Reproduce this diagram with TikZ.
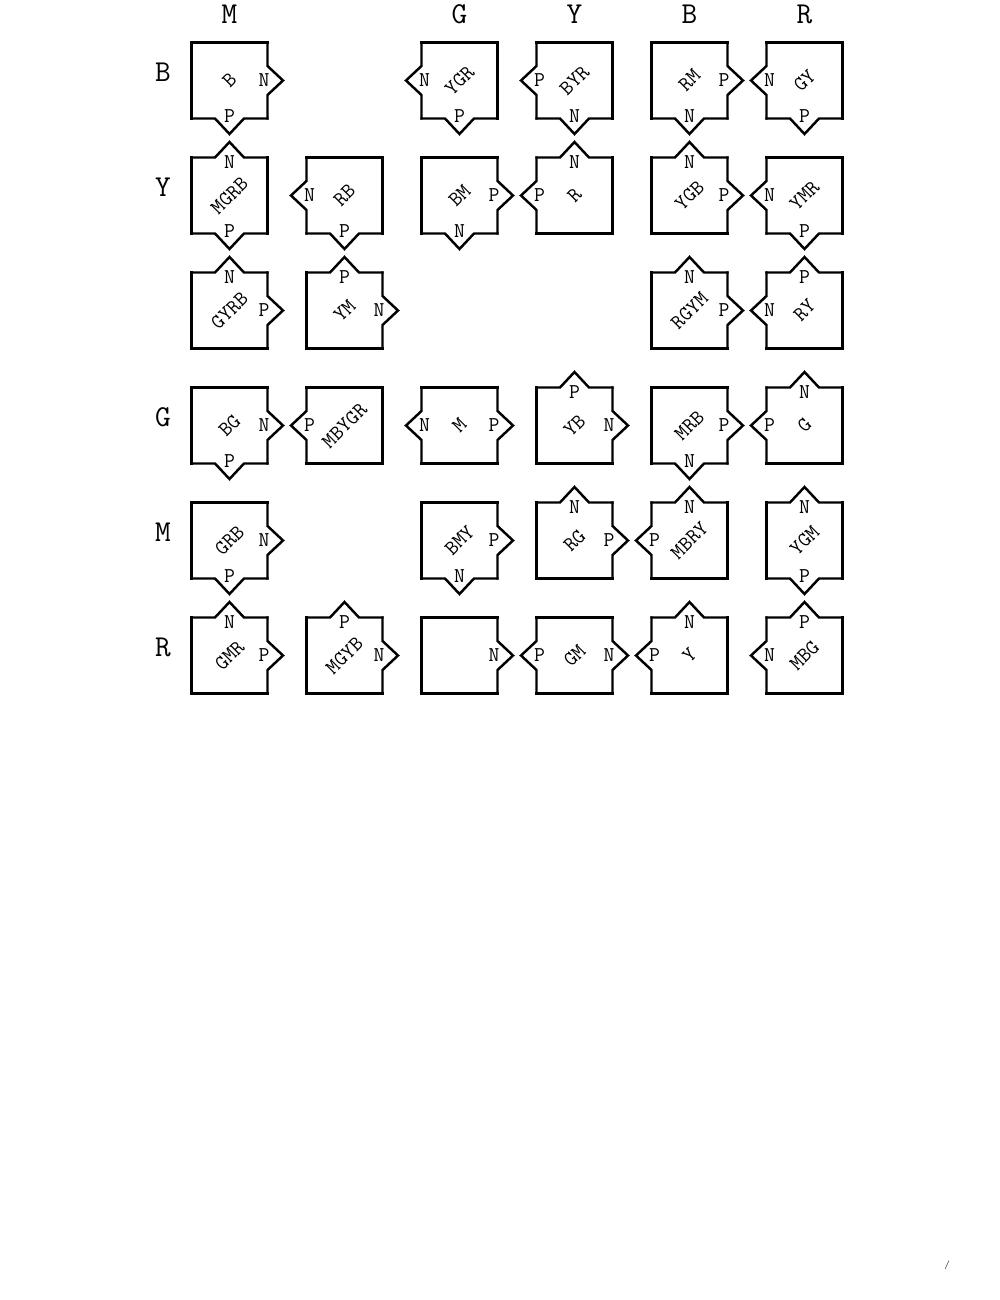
\documentclass[tikz,border=0pt]{standalone}

\tikzset{
  tileline/.style={line width=1.4pt, line cap=rect},
  notchlabel/.style={inner sep=0pt, font=\ttfamily\large},
  tilelabel/.style={inner sep=0pt, rotate=45, font=\ttfamily\large},
  header/.style={font=\ttfamily\LARGE}
}

% one side of a tile: straight, or with a notch and its letter
\newcommand{\side}[5]{%
  \begin{scope}[rotate=#3]
    \if\relax\detokenize{#4}\relax
      \draw[tileline] (0.76,0.76) -- (0.76,-0.76);
    \else
      \draw[tileline] (0.76,0.76) -- (0.76,0.29) -- (1.07,0) -- (0.76,-0.29) -- (0.76,-0.76);
      \node[notchlabel] (#1-#2) at ({0.76-#5},0) {#4};
    \fi
  \end{scope}}

% tile: name, column, row, label, top, right, bottom, left
\newcommand{\tile}[8]{%
  \begin{scope}[shift={({2.29+2.3*#2},{0.69-2.3*#3})}]
    \node[tilelabel] (#1) at (0,0) {#4};
    \side{#1}{t}{90}{#5}{0.1}
    \side{#1}{r}{0}{#6}{0.07}
    \side{#1}{b}{-90}{#7}{0.04}
    \side{#1}{l}{180}{#8}{0.06}
  \end{scope}}

\begin{document}
\begin{tikzpicture}
\useasboundingbox (0,0) rectangle (20,-26);

% column headers
\node[header] (cM) at (4.59,-0.28) {M};
\node[header] (cG) at (9.19,-0.28) {G};
\node[header] (cY) at (11.49,-0.28) {Y};
\node[header] (cB) at (13.79,-0.28) {B};
\node[header] (cR) at (16.09,-0.28) {R};

% row headers
\node[header] (rB) at (3.26,-1.45) {B};
\node[header] (rY) at (3.26,-3.75) {Y};
\node[header] (rG) at (3.26,-8.35) {G};
\node[header] (rM) at (3.26,-10.65) {M};
\node[header] (rR) at (3.26,-12.95) {R};

% row 1
\tile{t11}{1}{1}{B}{}{N}{P}{}
\tile{t13}{3}{1}{YGR}{}{}{P}{N}
\tile{t14}{4}{1}{BYR}{}{}{N}{P}
\tile{t15}{5}{1}{RM}{}{P}{N}{}
\tile{t16}{6}{1}{GY}{}{}{P}{N}

% row 2
\tile{t21}{1}{2}{MGRB}{N}{}{P}{}
\tile{t22}{2}{2}{RB}{}{}{P}{N}
\tile{t23}{3}{2}{BM}{}{P}{N}{}
\tile{t24}{4}{2}{R}{N}{}{}{P}
\tile{t25}{5}{2}{YGB}{N}{P}{}{}
\tile{t26}{6}{2}{YMR}{}{}{P}{N}

% row 3
\tile{t31}{1}{3}{GYRB}{N}{P}{}{}
\tile{t32}{2}{3}{YM}{P}{N}{}{}
\tile{t35}{5}{3}{RGYM}{N}{P}{}{}
\tile{t36}{6}{3}{RY}{P}{}{}{N}

% row 4
\tile{t41}{1}{4}{BG}{}{N}{P}{}
\tile{t42}{2}{4}{MBYGR}{}{}{}{P}
\tile{t43}{3}{4}{M}{}{P}{}{N}
\tile{t44}{4}{4}{YB}{P}{N}{}{}
\tile{t45}{5}{4}{MRB}{}{P}{N}{}
\tile{t46}{6}{4}{G}{N}{}{}{P}

% row 5
\tile{t51}{1}{5}{GRB}{}{N}{P}{}
\tile{t53}{3}{5}{BMY}{}{P}{N}{}
\tile{t54}{4}{5}{RG}{N}{P}{}{}
\tile{t55}{5}{5}{MBRY}{N}{}{}{P}
\tile{t56}{6}{5}{YGM}{N}{}{P}{}

% row 6
\tile{t61}{1}{6}{GMR}{N}{P}{}{}
\tile{t62}{2}{6}{MGYB}{P}{N}{}{}
\tile{t63}{3}{6}{}{}{N}{}{}
\tile{t64}{4}{6}{GM}{}{N}{}{P}
\tile{t65}{5}{6}{Y}{N}{}{}{P}
\tile{t66}{6}{6}{MBG}{P}{}{}{N}

\node[font=\tiny] (mark) at (18.94,-25.3) {/};
\end{tikzpicture}
\end{document}
